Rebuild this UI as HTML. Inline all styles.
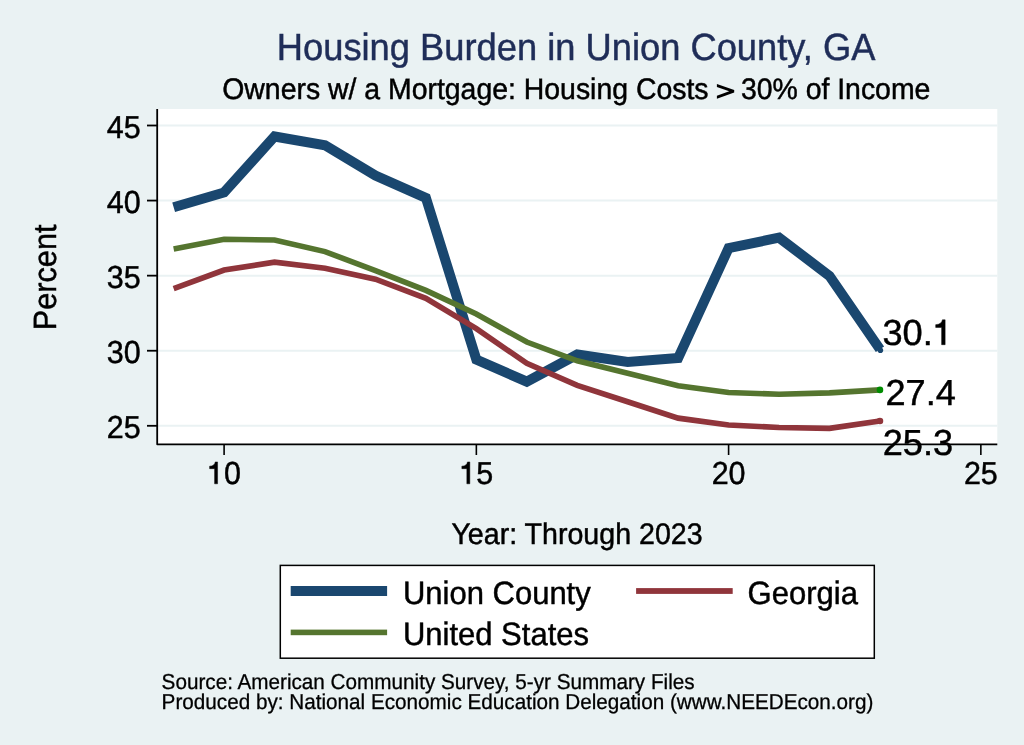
<!DOCTYPE html>
<html><head><meta charset="utf-8"><style>
html,body{margin:0;padding:0;width:1024px;height:745px;overflow:hidden;background:#eaf2f3;}
svg{display:block;will-change:transform;}
text{font-family:"Liberation Sans", sans-serif;text-rendering:geometricPrecision;}
</style></head><body>
<svg width="1024" height="745" viewBox="0 0 1024 745">
<rect x="0" y="0" width="1024" height="745" fill="#eaf2f3"/>
<rect x="157.2" y="109.0" width="840.1" height="335.3" fill="#ffffff"/>
<line x1="157.2" y1="425.80" x2="997.3" y2="425.80" stroke="#eaf2f3" stroke-width="2"/>
<line x1="157.2" y1="350.73" x2="997.3" y2="350.73" stroke="#eaf2f3" stroke-width="2"/>
<line x1="157.2" y1="275.65" x2="997.3" y2="275.65" stroke="#eaf2f3" stroke-width="2"/>
<line x1="157.2" y1="200.57" x2="997.3" y2="200.57" stroke="#eaf2f3" stroke-width="2"/>
<line x1="157.2" y1="125.50" x2="997.3" y2="125.50" stroke="#eaf2f3" stroke-width="2"/>
<polyline points="173.65,207.18 224.10,192.47 274.55,136.46 325.00,145.32 375.45,175.50 425.90,197.87 476.35,359.58 526.80,381.66 577.25,354.48 627.70,361.99 678.15,358.08 728.60,248.17 779.05,237.66 829.50,275.95 879.95,349.22" fill="none" stroke="#1a476f" stroke-width="10" stroke-linejoin="miter" stroke-miterlimit="10" stroke-linecap="butt"/>
<circle cx="880.35" cy="350.22" r="2.8" fill="#1a476f"/>
<polyline points="173.65,288.56 224.10,270.09 274.55,262.14 325.00,268.29 375.45,279.25 425.90,298.32 476.35,328.65 526.80,363.34 577.25,385.41 627.70,401.78 678.15,418.14 728.60,425.05 779.05,427.45 829.50,428.35 879.95,421.00" fill="none" stroke="#90353b" stroke-width="5.6" stroke-linejoin="miter" stroke-miterlimit="10" stroke-linecap="butt"/>
<circle cx="879.95" cy="421.00" r="3.3" fill="#90353b"/>
<polyline points="173.65,249.07 224.10,239.31 274.55,240.06 325.00,251.63 375.45,270.54 425.90,290.36 476.35,314.09 526.80,342.02 577.25,360.79 627.70,373.25 678.15,385.71 728.60,392.47 779.05,394.27 829.50,392.92 879.95,389.91" fill="none" stroke="#55752f" stroke-width="5.6" stroke-linejoin="miter" stroke-miterlimit="10" stroke-linecap="butt"/>
<circle cx="879.95" cy="389.91" r="3.3" fill="#008c00"/>
<path d="M157.2,109.0 L157.2,444.3 L997.3,444.3" fill="none" stroke="#000" stroke-width="1.8" stroke-linejoin="round"/>
<line x1="147" y1="425.80" x2="157.2" y2="425.80" stroke="#000" stroke-width="1.8"/>
<line x1="147" y1="350.73" x2="157.2" y2="350.73" stroke="#000" stroke-width="1.8"/>
<line x1="147" y1="275.65" x2="157.2" y2="275.65" stroke="#000" stroke-width="1.8"/>
<line x1="147" y1="200.57" x2="157.2" y2="200.57" stroke="#000" stroke-width="1.8"/>
<line x1="147" y1="125.50" x2="157.2" y2="125.50" stroke="#000" stroke-width="1.8"/>
<line x1="224.10" y1="444.3" x2="224.10" y2="455" stroke="#000" stroke-width="1.6"/>
<line x1="476.35" y1="444.3" x2="476.35" y2="455" stroke="#000" stroke-width="1.6"/>
<line x1="728.60" y1="444.3" x2="728.60" y2="455" stroke="#000" stroke-width="1.6"/>
<line x1="980.85" y1="444.3" x2="980.85" y2="455" stroke="#000" stroke-width="1.6"/>
<text transform="translate(140.60,438.00) scale(1,1.042)" text-anchor="end" font-size="30.5" fill="#000" stroke="#000" stroke-width="0.45">25</text>
<text transform="translate(140.60,362.93) scale(1,1.042)" text-anchor="end" font-size="30.5" fill="#000" stroke="#000" stroke-width="0.45">30</text>
<text transform="translate(140.60,287.85) scale(1,1.042)" text-anchor="end" font-size="30.5" fill="#000" stroke="#000" stroke-width="0.45">35</text>
<text transform="translate(140.60,212.77) scale(1,1.042)" text-anchor="end" font-size="30.5" fill="#000" stroke="#000" stroke-width="0.45">40</text>
<text transform="translate(140.60,137.70) scale(1,1.042)" text-anchor="end" font-size="30.5" fill="#000" stroke="#000" stroke-width="0.45">45</text>
<path transform="translate(207.14,483.80) scale(0.01489,-0.01552)" d="M700,0 L700,1409 L545,1409 C515,1250 400,1140 165,1135 L165,975 L500,975 L500,0 Z" fill="#000" stroke="#000" stroke-width="0.45" vector-effect="non-scaling-stroke"/>
<text transform="translate(224.10,483.80) scale(1,1.042)" text-anchor="start" font-size="30.5" fill="#000" stroke="#000" stroke-width="0.45">0</text>
<path transform="translate(459.39,483.80) scale(0.01489,-0.01552)" d="M700,0 L700,1409 L545,1409 C515,1250 400,1140 165,1135 L165,975 L500,975 L500,0 Z" fill="#000" stroke="#000" stroke-width="0.45" vector-effect="non-scaling-stroke"/>
<text transform="translate(476.35,483.80) scale(1,1.042)" text-anchor="start" font-size="30.5" fill="#000" stroke="#000" stroke-width="0.45">5</text>
<text transform="translate(728.60,483.80) scale(1,1.042)" text-anchor="middle" font-size="30.5" fill="#000" stroke="#000" stroke-width="0.45">20</text>
<text transform="translate(980.85,483.80) scale(1,1.042)" text-anchor="middle" font-size="30.5" fill="#000" stroke="#000" stroke-width="0.45">25</text>
<text transform="translate(55.80,277.40) rotate(-90) scale(1,1.049)" text-anchor="middle" font-size="30.7" fill="#000" stroke="#000" stroke-width="0.45">Percent</text>
<text transform="translate(577.00,544.00) scale(1,1.042)" text-anchor="middle" font-size="28.6" fill="#000" stroke="#000" stroke-width="0.45">Year: Through 2023</text>
<text transform="translate(576.10,60.10) scale(1,1.042)" text-anchor="middle" font-size="36.3" fill="#1f2d58" stroke="#1f2d58" stroke-width="0.45">Housing Burden in Union County, GA</text>
<text transform="translate(576.30,98.60) scale(1,1.042)" text-anchor="middle" font-size="28.42" fill="#000" stroke="#000" stroke-width="0.45">Owners w/ a Mortgage: Housing Costs <tspan fill="none" stroke="none">&gt;</tspan> 30% of Income</text>
<text transform="translate(882.45,344.70) scale(1,1.0)" text-anchor="start" font-size="36.2" fill="#000" stroke="#000" stroke-width="0.45">30.</text>
<path transform="translate(932.77,344.70) scale(0.01768,-0.01768)" d="M700,0 L700,1409 L545,1409 C515,1250 400,1140 165,1135 L165,975 L500,975 L500,0 Z" fill="#000" stroke="#000" stroke-width="0.45" vector-effect="non-scaling-stroke"/>
<text transform="translate(885.40,404.60) scale(1,1.0)" text-anchor="start" font-size="36.2" fill="#000" stroke="#000" stroke-width="0.45">27.4</text>
<text transform="translate(882.70,454.60) scale(1,1.0)" text-anchor="start" font-size="36.2" fill="#000" stroke="#000" stroke-width="0.45">25.3</text>
<path d="M716.9,83.9 L734.2,90.1 L734.2,92.5 L716.9,98.8 L716.9,95.8 L729.2,91.3 L716.9,86.9 Z" fill="#000"/>
<rect x="280.3" y="565.4" width="594.0" height="92.8" fill="#fff" stroke="#000" stroke-width="1.5"/>
<rect x="290.7" y="586" width="96.4" height="10" fill="#1a476f"/>
<rect x="290.7" y="629.6" width="96.4" height="5.6" fill="#55752f"/>
<rect x="636.1" y="588.1" width="96.6" height="5.8" fill="#90353b"/>
<text transform="translate(402.90,603.80) scale(1,1.042)" text-anchor="start" font-size="31" fill="#000" stroke="#000" stroke-width="0.45">Union County</text>
<text transform="translate(402.90,644.90) scale(1,1.042)" text-anchor="start" font-size="31" fill="#000" stroke="#000" stroke-width="0.45">United States</text>
<text transform="translate(747.60,603.90) scale(1,1.042)" text-anchor="start" font-size="31" fill="#000" stroke="#000" stroke-width="0.45">Georgia</text>
<text transform="translate(161.60,688.80) scale(1,1.042)" text-anchor="start" font-size="20.7" fill="#000" stroke="#000" stroke-width="0.28">Source: American Community Survey, 5-yr Summary Files</text>
<text transform="translate(161.60,708.60) scale(1,1.042)" text-anchor="start" font-size="20.7" fill="#000" stroke="#000" stroke-width="0.28">Produced by: National Economic Education Delegation (www.NEEDEcon.org)</text>
</svg>
</body></html>
